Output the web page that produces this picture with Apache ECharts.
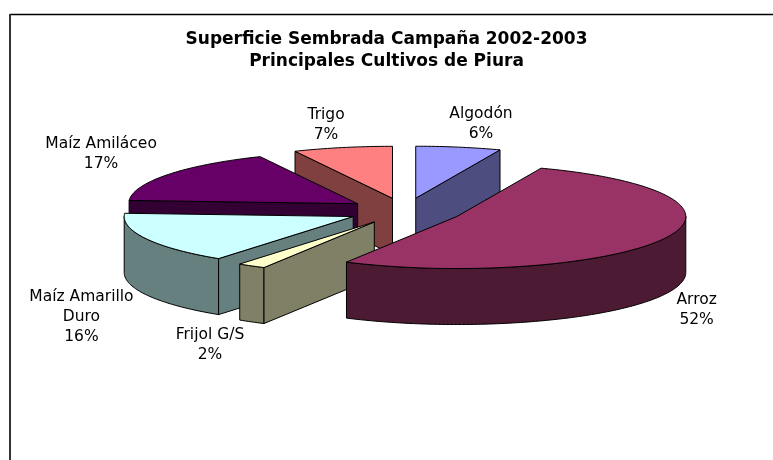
<!DOCTYPE html>
<html>
<head>
<meta charset="utf-8">
<title>Superficie Sembrada Campaña 2002-2003</title>
<script src="https://cdn.jsdelivr.net/npm/echarts@6/dist/echarts.min.js"></script>
</head>
<body style="margin:0; background:#fff">
<div id="main" style="width:773px;height:460px"></div>
<script>
// datos del grafico
var cultivos = ['Algodón', 'Arroz', 'Frijol G/S', 'Maíz Amarillo Duro', 'Maíz Amiláceo', 'Trigo'];
var etiquetas = ['Algodón', 'Arroz', 'Frijol G/S', 'Maíz Amarillo\nDuro', 'Maíz Amiláceo', 'Trigo'];
var porcentajes = [6, 52, 2, 16, 17, 7];

// colores de cara superior y de costado
var colores = ['#9999FF', '#993366', '#FFFFCC', '#CCFFFF', '#660066', '#FF8080'];
var lados = ['#4D4D80', '#4D1A33', '#808066', '#668080', '#330033', '#804040'];

// elipse del pastel 3D
var cx = 405, cy = 211, rx = 229, ry = 52, alto = 56, sep = 0.25;
var tamLetra = 15.5, familia = 'DejaVu Sans';
var RAD = Math.PI / 180;

var total = porcentajes.reduce(function (a, b) { return a + b; }, 0);
var rebanadas = [];
var acum = 0;
porcentajes.forEach(function (v) {
  var a = acum / total * 360;
  acum += v;
  var b = acum / total * 360;
  var m = (a + b) / 2 * RAD;
  rebanadas.push({
    a: a, b: b, m: m,
    ox: cx + sep * rx * Math.sin(m),
    oy: cy - sep * ry * Math.cos(m)
  });
});

function pt(s, deg, dy) {
  return [s.ox + rx * Math.sin(deg * RAD), s.oy - ry * Math.cos(deg * RAD) + dy];
}
function arco(s, d0, d1, dy) {
  var pts = [];
  var n = Math.max(2, Math.ceil(d1 - d0));
  for (var k = 0; k <= n; k++) pts.push(pt(s, d0 + (d1 - d0) * k / n, dy));
  return pts;
}

// orden de dibujo: de atras hacia adelante
var fondo = rebanadas.map(function (s) {
  var ys = arco(s, s.a, s.b, alto).map(function (p) { return p[1]; });
  ys.push(s.oy + alto);
  return Math.max.apply(null, ys);
});
var orden = fondo.map(function (y, i) {
  return fondo.filter(function (o, j) { return o < y || (o === y && j < i); }).length;
});

var lienzo = document.createElement('canvas').getContext('2d');
lienzo.font = tamLetra + 'px "' + familia + '"';
function lim(v) { return Math.max(-1, Math.min(1, v)); }

function poly(points, fill, z) {
  return {
    type: 'polygon', z2: z,
    shape: { points: points },
    style: { fill: fill, stroke: '#000', lineWidth: 1 }
  };
}

function renderItem(params, api) {
  var i = params.dataIndex, s = rebanadas[i], z = orden[i] * 10;
  var hijos = [];
  // pared curva frontal
  var f0 = Math.max(s.a, 90), f1 = Math.min(s.b, 270);
  if (f1 > f0) {
    hijos.push(poly(arco(s, f0, f1, 0).concat(arco(s, f0, f1, alto).reverse()), lados[i], z));
  }
  // paredes radiales visibles
  if (Math.sin(s.a * RAD) < -1e-6) {
    hijos.push(poly([[s.ox, s.oy], pt(s, s.a, 0), pt(s, s.a, alto), [s.ox, s.oy + alto]], lados[i], z + 1));
  }
  if (Math.sin(s.b * RAD) > 1e-6) {
    hijos.push(poly([[s.ox, s.oy], pt(s, s.b, 0), pt(s, s.b, alto), [s.ox, s.oy + alto]], lados[i], z + 1));
  }
  // cara superior
  hijos.push(poly([[s.ox, s.oy]].concat(arco(s, s.a, s.b, 0)), colores[i], z + 5));

  // etiqueta
  var texto = etiquetas[i] + '\n' + Math.round(api.value(0) / total * 100) + '%';
  var lineas = texto.split('\n');
  var w = Math.max.apply(null, lineas.map(function (l) { return lienzo.measureText(l).width; }));
  var h = lineas.length * 20;
  var sn = Math.sin(s.m), cs = Math.cos(s.m);
  var ax = s.ox + 1.06 * rx * sn;
  var ay = s.oy - 1.06 * ry * cs + (cs < 0 ? alto : 0);
  hijos.push({
    type: 'text', z2: 200,
    x: ax + w / 2 * lim(sn / 0.3),
    y: ay - h / 2 * lim(cs / 0.6),
    style: {
      text: texto, align: 'center', verticalAlign: 'middle',
      fontSize: tamLetra, fontFamily: familia, lineHeight: 20, fill: '#000'
    }
  });
  return { type: 'group', children: hijos };
}

var myChart = echarts.init(document.getElementById('main'));
var option = {
  backgroundColor: '#FFFFFF',
  animation: false,
  title: {
    text: 'Superficie Sembrada Campaña 2002-2003\nPrincipales Cultivos de Piura',
    left: 'center',
    top: 29,
    padding: [0, 0, 0, 20],
    textStyle: {
      fontFamily: familia, fontSize: 17, fontWeight: 'bold',
      color: '#000', lineHeight: 22
    }
  },
  graphic: [
    { type: 'line', shape: { x1: 10, y1: 14.5, x2: 773, y2: 14.5 }, style: { stroke: '#000', lineWidth: 1.5 } },
    { type: 'line', shape: { x1: 10, y1: 14, x2: 10, y2: 460 }, style: { stroke: '#333', lineWidth: 2 } }
  ],
  series: [{
    type: 'custom',
    coordinateSystem: 'none',
    silent: true,
    renderItem: renderItem,
    data: cultivos.map(function (n, i) { return { name: n, value: [porcentajes[i]] }; })
  }]
};
myChart.setOption(option);
</script>
</body>
</html>
